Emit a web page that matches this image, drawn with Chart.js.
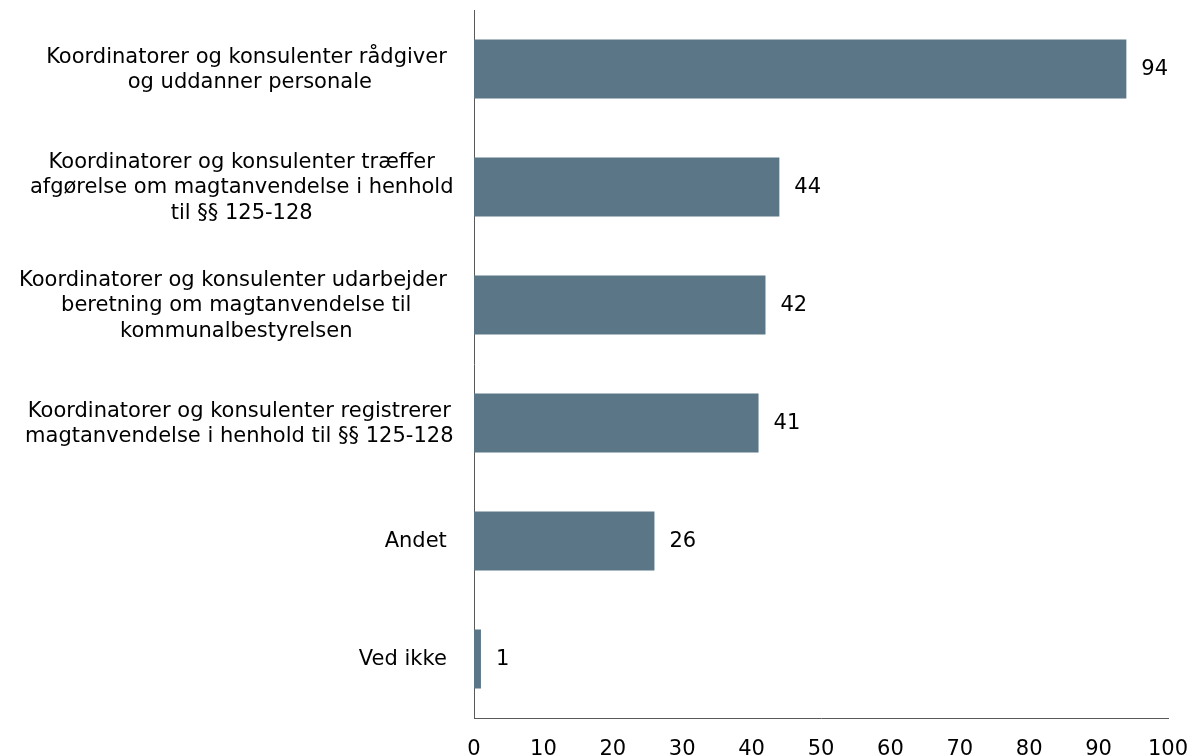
<!DOCTYPE html>
<html>
<head>
<meta charset="utf-8">
<script src="https://cdn.jsdelivr.net/npm/chart.js@4/dist/chart.umd.min.js"></script>
<style>
  html, body { margin: 0; padding: 0; background: #fff; }
  .chart__body { width: 1191px; height: 755px; }
</style>
</head>
<body>
<div class="chart__body"><canvas id="myChart"></canvas></div>
<script>
// kategorier (linjer som i originalen)
const categories = [
  ["Koordinatorer og konsulenter rådgiver ", "og uddanner personale"],
  ["Koordinatorer og konsulenter træffer", "afgørelse om magtanvendelse i henhold", "til §§ 125-128"],
  ["Koordinatorer og konsulenter udarbejder ", "beretning om magtanvendelse til", "kommunalbestyrelsen"],
  ["Koordinatorer og konsulenter registrerer", "magtanvendelse i henhold til §§ 125-128"],
  ["Andet "],
  ["Ved ikke "],
];
// procent
const values = [94, 44, 42, 41, 26, 1];
const xTicks = [0, 10, 20, 30, 40, 50, 60, 70, 80, 90, 100];

const fontFamily = "'DejaVu Sans', Verdana, sans-serif";
const font = "21px " + fontFamily;
const barColor = "rgb(91, 118, 134)";
const axisColor = "#595959";

// tegner y-labels: blok højrestillet, linjer centreret
const labelPlugin = {
  id: "labels",
  afterDraw(chart) {
    const ctx = chart.ctx;
    const y = chart.scales.y;
    ctx.save();
    ctx.font = font;
    ctx.fillStyle = "#000";
    ctx.textBaseline = "middle";
    ctx.textAlign = "center";
    const right = 453.5;
    categories.forEach(function (lines, i) {
      const cy = y.getPixelForTick(i) + 1;
      const widest = Math.max.apply(null, lines.map((l) => ctx.measureText(l).width));
      const cx = right - widest / 2;
      const lh = 25.5;
      lines.forEach(function (line, j) {
        ctx.fillText(line, cx, cy + (j - (lines.length - 1) / 2) * lh);
      });
    });
    // værdier ved søjlerne
    const meta = chart.getDatasetMeta(0);
    ctx.textAlign = "left";
    meta.data.forEach(function (bar, i) {
      ctx.fillText(String(values[i]), bar.x + 15, bar.y + 1);
    });
    ctx.restore();
  },
};

const data = {
  labels: categories.map((c) => c.join(" ")),
  datasets: [
    {
      data: values,
      backgroundColor: barColor,
      borderWidth: 0,
      categoryPercentage: 1,
      barPercentage: 0.5,
    },
  ],
};

const config = {
  type: "bar",
  data,
  options: {
    indexAxis: "y",
    responsive: true,
    maintainAspectRatio: false,
    animation: false,
    layout: { padding: { top: 10, right: 23, left: 0, bottom: 0 } },
    scales: {
      x: {
        min: 0,
        max: 100,
        afterBuildTicks(scale) {
          scale.ticks = xTicks.map((v) => ({ value: v }));
        },
        afterFit(scale) {
          scale.height = 37;
          scale.paddingLeft = 0;
          scale.paddingRight = 0;
        },
        grid: { display: false, drawTicks: false },
        border: { display: true, color: axisColor, width: 1 },
        ticks: {
          color: "#000",
          padding: 19,
          maxRotation: 0,
          font: { family: fontFamily, size: 21 },
        },
      },
      y: {
        afterFit(scale) {
          scale.width = 474;
        },
        grid: { display: false, drawTicks: false },
        border: { display: true, color: axisColor, width: 1 },
        ticks: { display: false },
      },
    },
    plugins: {
      legend: { display: false },
      tooltip: { enabled: false },
    },
  },
  plugins: [labelPlugin],
};

const myChart = new Chart(document.getElementById("myChart"), config);
</script>
</body>
</html>
